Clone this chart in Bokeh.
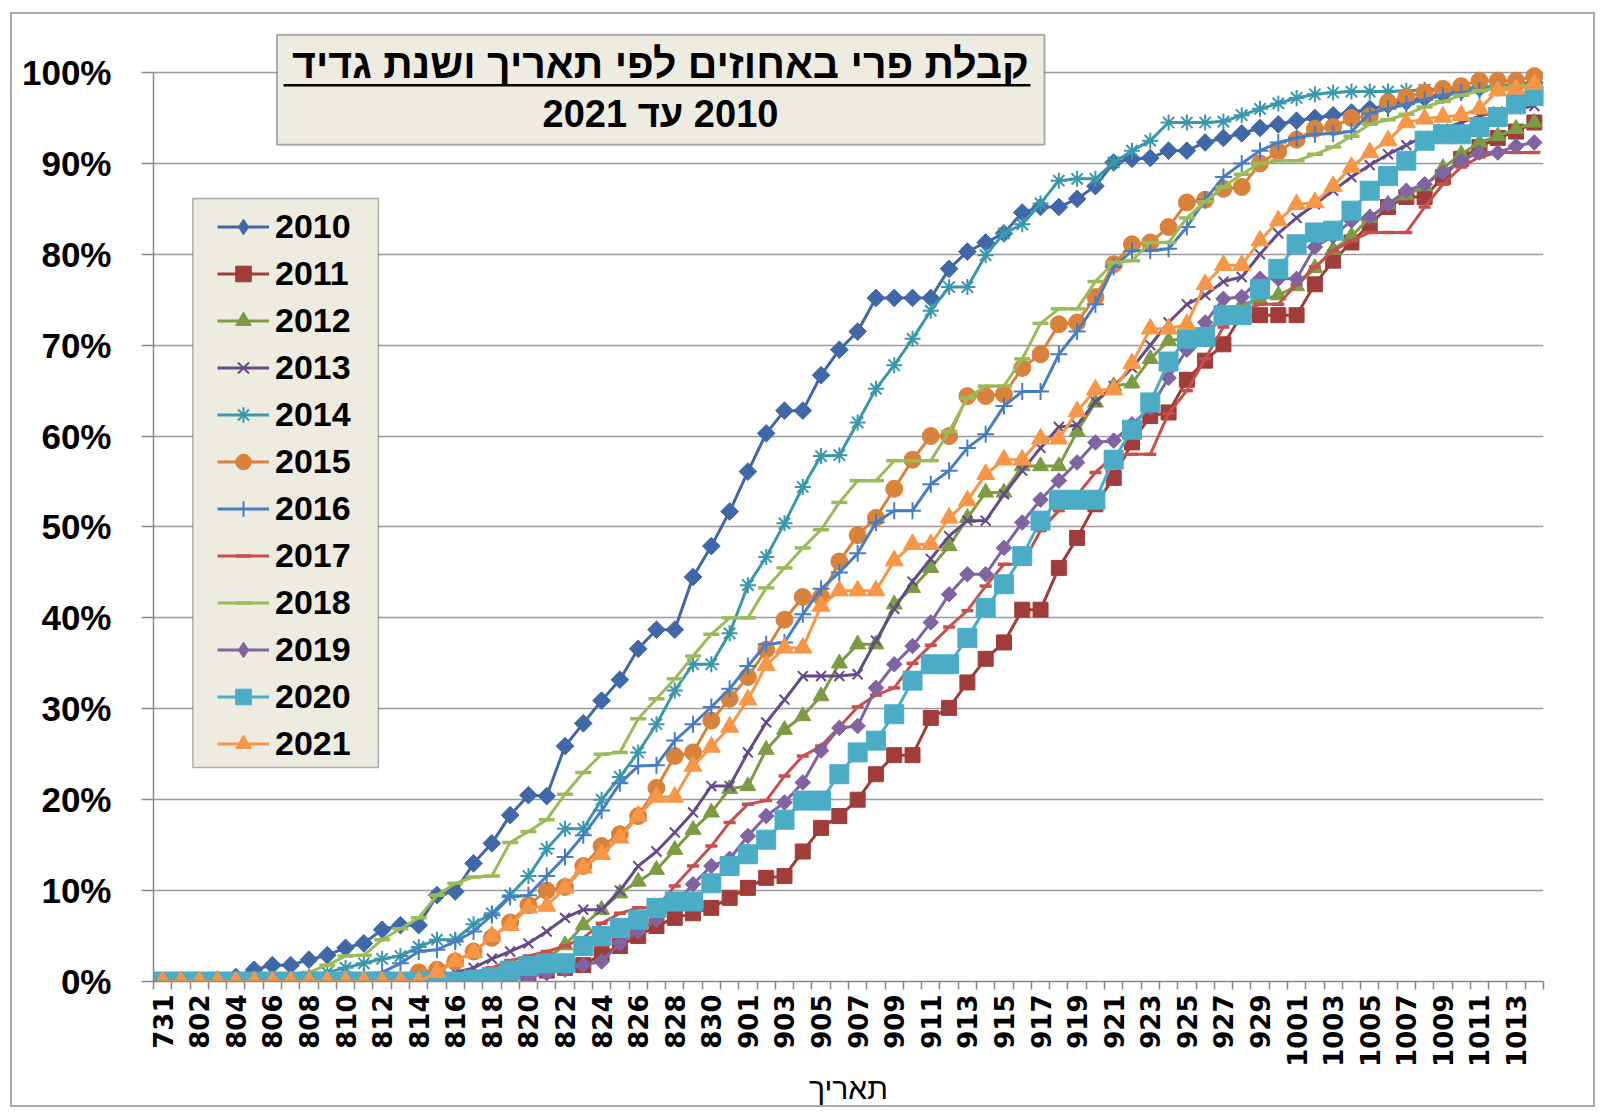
import math
from bokeh.plotting import figure
from bokeh.models import (Range1d, FixedTicker, PrintfTickFormatter, Legend, LegendItem,
                          BoxAnnotation, Label, ColumnDataSource)
from bokeh.embed import file_html
from bokeh.resources import INLINE

# ---------------- data ----------------
dates = (["731"] + [f"8{d:02d}" for d in range(1, 32)]
         + [f"9{d:02d}" for d in range(1, 31)] + [f"10{d:02d}" for d in range(1, 15)])

years = ["2010", "2011", "2012", "2013", "2014", "2015",
         "2016", "2017", "2018", "2019", "2020", "2021"]

s2010 = [0, 0, 0, 0.2, 0.5, 1.3, 1.8, 1.8, 2.4, 2.9,
         3.7, 4.2, 5.7, 6.2, 6.2, 9.5, 9.9, 13.0, 15.2, 18.3,
         20.5, 20.4, 25.9, 28.4, 30.9, 33.2, 36.6, 38.7, 38.7, 44.5,
         47.9, 51.7, 56.1, 60.3, 62.8, 62.8, 66.7, 69.5, 71.5, 75.2,
         75.2, 75.2, 75.2, 78.4, 80.3, 81.3, 82.3, 84.6, 85.2, 85.2,
         86.1, 87.5, 90.1, 90.5, 90.6, 91.4, 91.4, 92.3, 92.8, 93.3,
         93.9, 94.3, 94.7, 95.0, 95.3, 95.6, 96.0, 96.4, 96.8, 97.2,
         97.6, 98.0, 98.3, 98.5, 98.7, 98.9]
s2011 = [0, 0, 0, 0, 0, 0, 0, 0, 0, 0,
         0, 0, 0, 0, 0, 0, 0, 0.2, 0.4, 0.5,
         0.6, 1.2, 1.5, 1.8, 3.0, 3.9, 5.0, 6.1, 7.0, 7.5,
         8.1, 9.2, 10.3, 11.4, 11.6, 14.3, 16.9, 18.2, 20.0, 22.8,
         24.9, 24.9, 29.0, 30.1, 32.9, 35.5, 37.3, 40.9, 40.9, 45.5,
         48.8, 52.5, 55.4, 59.3, 62.2, 62.6, 66.2, 68.3, 70.1, 73.3,
         73.3, 73.3, 73.3, 76.7, 79.3, 81.3, 83.3, 85.2, 86.3, 86.3,
         88.5, 90.5, 91.8, 92.8, 93.5, 94.5]
s2012 = [0, 0, 0, 0, 0, 0, 0, 0, 0, 0,
         0, 0, 0, 0, 0, 0, 0, 0.3, 0.6, 1.0,
         1.6, 2.5, 4.0, 6.2, 7.9, 9.7, 11.0, 12.3, 14.5, 16.7,
         18.6, 21.2, 21.5, 25.5, 27.7, 29.2, 31.4, 35.0, 37.1, 37.1,
         41.5, 43.3, 45.5, 47.9, 51.0, 53.8, 53.8, 56.7, 56.7, 56.7,
         60.5, 63.7, 65.5, 65.8, 68.5, 70.5, 70.8, 71.5, 73.0, 74.5,
         75.0, 75.5, 76.5, 78.5, 80.5, 82.0, 84.0, 85.5, 86.5, 87.5,
         89.5, 91.0, 92.3, 93.0, 93.8, 94.5]
s2013 = [0, 0, 0, 0, 0, 0, 0, 0, 0, 0,
         0, 0, 0, 0, 0, 0.5, 1.0, 1.5, 2.5, 3.3,
         4.2, 5.5, 7.0, 7.9, 7.9, 10.0, 12.7, 14.3, 16.4, 18.6,
         21.5, 21.5, 25.2, 28.5, 31.0, 33.6, 33.6, 33.6, 33.8, 37.5,
         41.0, 44.0, 46.5, 49.0, 50.7, 50.7, 53.6, 56.2, 58.7, 61.0,
         61.2, 63.8, 65.5, 67.5, 70.0, 72.5, 74.5, 75.5, 77.0, 77.5,
         80.0, 82.3, 84.0, 85.5, 87.0, 88.5, 89.8, 91.0, 92.0, 93.0,
         93.8, 94.5, 95.2, 95.7, 96.0, 96.3]
s2014 = [0, 0, 0, 0, 0, 0, 0, 0, 0.5, 1.0,
         1.5, 2.0, 2.5, 2.8, 3.8, 4.6, 4.6, 6.3, 7.5, 9.5,
         11.6, 14.6, 16.8, 16.8, 20.0, 22.5, 25.2, 28.3, 32.0, 34.9,
         34.9, 38.3, 43.6, 46.7, 50.4, 54.4, 57.8, 57.9, 61.5, 65.2,
         67.8, 70.7, 73.8, 76.4, 76.4, 79.9, 82.3, 83.3, 85.6, 88.1,
         88.3, 88.3, 90.1, 91.4, 92.5, 94.5, 94.5, 94.5, 94.6, 95.3,
         96.0, 96.6, 97.2, 97.6, 97.8, 97.9, 97.9, 97.9, 98.0, 98.1,
         98.2, 98.3, 98.4, 98.5, 98.6, 98.7]
s2015 = [0, 0, 0, 0, 0, 0, 0, 0, 0, 0,
         0, 0, 0, 0, 1.0, 1.3, 2.2, 3.3, 4.8, 6.5,
         8.4, 10.0, 10.4, 12.7, 14.9, 16.2, 18.2, 21.3, 24.8, 25.2,
         28.7, 31.1, 33.5, 36.5, 39.8, 42.3, 42.3, 46.2, 49.1, 51.0,
         54.2, 57.4, 60.0, 60.0, 64.4, 64.4, 64.6, 67.5, 69.0, 72.3,
         72.5, 75.3, 78.9, 81.1, 81.3, 83.0, 85.7, 86.0, 87.2, 87.4,
         90.0, 91.3, 92.6, 93.8, 94.0, 95.0, 95.2, 96.7, 97.3, 97.8,
         98.2, 98.5, 99.1, 99.1, 99.1, 99.6]
s2016 = [0, 0, 0, 0, 0, 0, 0, 0, 0, 0,
         0, 0.5, 1.0, 2.0, 3.3, 3.5, 4.4, 5.5, 7.3, 9.3,
         9.5, 11.6, 13.7, 16.1, 18.8, 21.8, 23.7, 23.8, 26.5, 28.3,
         30.2, 32.2, 34.7, 37.1, 37.3, 40.4, 43.2, 45.0, 47.1, 50.5,
         51.8, 51.8, 54.7, 56.2, 58.7, 60.2, 63.3, 64.9, 64.9, 69.0,
         71.5, 74.5, 78.6, 80.4, 80.4, 80.6, 83.0, 86.0, 88.5, 90.0,
         91.4, 92.3, 92.8, 93.2, 93.3, 93.5, 95.5, 96.0, 96.5, 97.0,
         97.5, 97.8, 98.0, 98.3, 98.5, 98.7]
s2017 = [0, 0, 0, 0, 0, 0, 0, 0, 0, 0,
         0, 0, 0, 0, 0, 0.3, 0.6, 1.0, 1.5, 2.3,
         2.8, 3.3, 3.9, 4.8, 6.4, 7.5, 8.1, 8.1, 10.5, 12.7,
         14.9, 17.5, 19.5, 19.9, 22.6, 24.8, 25.9, 28.0, 30.2, 31.5,
         32.3, 35.0, 37.0, 39.0, 40.8, 43.5, 45.9, 45.9, 49.6, 51.8,
         53.5, 56.0, 57.8, 58.0, 58.0, 62.5, 65.0, 68.5, 72.0, 73.8,
         74.5, 74.5, 76.7, 78.6, 80.4, 81.5, 82.4, 82.4, 82.4, 85.2,
         87.7, 89.6, 90.7, 91.2, 91.2, 91.2]
s2018 = [0, 0, 0, 0, 0, 0, 0.2, 0.5, 1.0, 1.8,
         2.8, 2.9, 4.6, 5.8, 7.0, 9.5, 10.8, 11.5, 11.6, 15.3,
         16.5, 17.8, 20.6, 23.0, 25.0, 25.2, 28.9, 31.1, 33.3, 35.8,
         38.2, 40.0, 40.0, 43.3, 45.5, 47.7, 49.7, 52.7, 55.1, 55.1,
         57.3, 57.3, 57.3, 60.5, 64.2, 65.5, 65.5, 68.5, 72.4, 74.0,
         74.0, 77.0, 79.1, 79.3, 81.3, 81.3, 84.0, 85.8, 87.4, 88.8,
         90.0, 90.3, 90.3, 91.0, 91.8, 93.0, 94.3, 94.8, 95.4, 96.2,
         96.8, 97.5, 98.0, 98.3, 98.5, 98.7]
s2019 = [0, 0, 0, 0, 0, 0, 0, 0, 0, 0,
         0, 0, 0, 0, 0, 0, 0, 0, 0.2, 0.4,
         0.5, 0.9, 1.3, 1.8, 2.2, 4.2, 5.5, 6.8, 8.5, 10.7,
         12.7, 13.5, 16.0, 18.2, 19.7, 21.9, 25.4, 27.9, 28.1, 32.3,
         34.9, 36.9, 39.5, 42.6, 44.8, 44.8, 47.7, 50.5, 53.0, 55.1,
         57.1, 59.3, 59.5, 61.3, 63.1, 66.4, 69.5, 72.5, 75.1, 75.3,
         77.3, 77.3, 77.3, 80.8, 82.0, 83.7, 84.1, 85.5, 87.0, 87.7,
         89.0, 90.3, 91.2, 91.2, 91.9, 92.3]
s2020 = [0, 0, 0, 0, 0, 0, 0, 0, 0, 0,
         0, 0, 0, 0, 0, 0, 0, 0.2, 0.5, 1.2,
         1.7, 2.0, 2.0, 3.9, 5.0, 5.9, 6.8, 8.1, 8.8, 8.8,
         10.8, 12.7, 14.0, 15.6, 17.8, 19.9, 19.9, 22.8, 25.2, 26.5,
         29.4, 33.1, 34.9, 34.9, 37.8, 41.1, 43.7, 46.8, 50.7, 53.0,
         53.0, 53.0, 57.4, 60.7, 63.7, 68.2, 70.7, 70.9, 73.3, 73.3,
         76.2, 78.4, 81.1, 82.4, 82.6, 84.8, 87.0, 88.6, 90.3, 92.5,
         93.2, 93.2, 94.0, 95.1, 96.5, 97.4]
s2021 = [0, 0, 0, 0, 0, 0, 0, 0, 0, 0,
         0, 0, 0, 0, 0, 1.0, 2.2, 3.2, 5.0, 6.2,
         8.1, 8.3, 10.3, 12.5, 14.0, 15.8, 18.2, 20.3, 20.3, 23.7,
         25.8, 28.0, 31.0, 34.8, 36.7, 36.7, 41.3, 43.0, 43.0, 43.0,
         46.3, 48.1, 48.1, 51.0, 52.9, 55.8, 57.4, 57.4, 59.7, 59.7,
         62.7, 65.1, 65.1, 68.0, 71.8, 71.8, 72.3, 76.7, 78.8, 78.8,
         81.5, 83.7, 85.5, 85.7, 87.5, 89.6, 91.2, 92.5, 94.5, 94.9,
         95.1, 95.3, 96.0, 98.0, 98.2, 98.7]

y_ticks = [0, 10, 20, 30, 40, 50, 60, 70, 80, 90, 100]

title_line1 = "קבלת פרי באחוזים לפי תאריך ושנת גדיד"
title_line2 = "\u200f2010 עד 2021"
x_title = "תאריך"

series = [s2010, s2011, s2012, s2013, s2014, s2015,
          s2016, s2017, s2018, s2019, s2020, s2021]

# ---------------- styles ----------------
# (colour, plot marker, size, angle, legend marker)
styles = {
    "2010": ("#4068A8", "square", 12.5, math.pi / 4, "diamond"),
    "2011": ("#A03C3A", "square", 15, 0, "square"),
    "2012": ("#7D9B42", "triangle", 16, 0, "triangle"),
    "2013": ("#654A8A", "x", 14, 0, "x"),
    "2014": ("#3A98AB", "asterisk", 16, 0, "asterisk"),
    "2015": ("#D8823C", "circle", 17, 0, "circle"),
    "2016": ("#477DC2", "cross", 17, 0, "cross"),
    "2017": ("#C8504C", "dash", 12, 0, "dash"),
    "2018": ("#9BBB59", "dash", 16, 0, "dash"),
    "2019": ("#8064A2", "square", 11, math.pi / 4, "diamond"),
    "2020": ("#4BACC6", "square", 19, 0, "square"),
    "2021": ("#F79646", "triangle", 18, 0, "triangle"),
}

n = len(dates)
idx = list(range(n))

p = figure(width=1585, height=1095, output_backend="svg", toolbar_location=None,
           x_range=Range1d(-0.5, n - 0.5), y_range=Range1d(0, 104.62),
           min_border_left=141, min_border_right=54, min_border_top=16,
           min_border_bottom=128)
p.styles = {"margin-left": "10px", "margin-top": "12px", "border": "2px solid #A9A9A9"}
p.outline_line_color = None
p.background_fill_color = "white"
p.border_fill_color = "white"

# grid
p.xgrid.visible = False
p.ygrid.grid_line_color = "#9A9A9A"
p.ygrid.grid_line_width = 1.5

# x axis
xa = p.xaxis[0]
xa.ticker = FixedTicker(ticks=[i for i in idx if i % 2 == 0],
                        minor_ticks=[i - 0.5 for i in range(n + 1)])
xa.major_label_overrides = {i: dates[i] for i in idx if i % 2 == 0}
xa.major_label_orientation = math.pi / 2
xa.major_tick_out = 0
xa.major_tick_in = 0
xa.minor_tick_out = 8
xa.minor_tick_in = 0
xa.minor_tick_line_color = "#888888"
xa.minor_tick_line_width = 1.5
xa.axis_line_color = "#888888"
xa.axis_line_width = 1.5
xa.major_label_text_font = "DejaVu Sans"
xa.major_label_text_font_style = "bold"
xa.major_label_text_font_size = "26px"
xa.major_label_text_color = "black"
xa.major_label_standoff = 5
xa.axis_label = x_title
xa.axis_label_text_font = "Liberation Sans"
xa.axis_label_text_font_style = "normal"
xa.axis_label_text_font_size = "30px"
xa.axis_label_text_color = "black"
xa.axis_label_standoff = 2

# y axis
ya = p.yaxis[0]
ya.ticker = FixedTicker(ticks=y_ticks)
ya.bounds = (0, 100)
ya.formatter = PrintfTickFormatter(format="%d%%")
ya.major_tick_out = 12
ya.major_tick_in = 0
ya.minor_tick_out = 0
ya.minor_tick_in = 0
ya.major_tick_line_color = "#888888"
ya.major_tick_line_width = 1.5
ya.axis_line_color = "#888888"
ya.axis_line_width = 1.5
ya.major_label_text_font = "Liberation Sans"
ya.major_label_text_font_style = "bold"
ya.major_label_text_font_size = "35px"
ya.major_label_text_color = "black"
ya.major_label_standoff = 30

# series
items = []
for year, vals in zip(years, series):
    color, marker, size, angle, leg_marker = styles[year]
    src = ColumnDataSource(dict(x=idx, y=vals))
    lr = p.line("x", "y", source=src, line_color=color, line_width=3)
    if marker in ("x", "asterisk", "cross", "dash"):
        sr = p.scatter("x", "y", source=src, marker=marker, size=size,
                       line_color=color, line_width=2 if marker != "dash" else 3.5)
    else:
        sr = p.scatter("x", "y", source=src, marker=marker, size=size, angle=angle,
                       fill_color=color, line_color=color, line_width=1)
    if leg_marker != marker:
        # zero-size proxy on the same data so that the legend shows a diamond
        sr = p.scatter("x", "y", source=src, marker=leg_marker, size=0,
                       fill_color=color, line_color=color, line_width=1)
    items.append(LegendItem(label=year, renderers=[lr, sr]))

# legend box + legend
p.add_layout(BoxAnnotation(left=1.65, right=11.80, bottom=23.54, top=86.14,
                           fill_color="#EEECE1", fill_alpha=1,
                           line_color="black", line_width=1.5))
legend = Legend(items=items, location=(60, 214), padding=4, margin=0, spacing=8,
                glyph_width=52, glyph_height=39, label_height=39, label_standoff=6,
                label_text_font="Liberation Sans", label_text_font_style="bold",
                label_text_font_size="34px", label_text_color="black",
                background_fill_alpha=0, border_line_alpha=0)
p.add_layout(legend, "center")

# title box
p.add_layout(BoxAnnotation(left=6.25, right=48.22, bottom=92.04, top=104.14,
                           fill_color="#EEECE1", fill_alpha=1,
                           line_color="black", line_width=2))
p.add_layout(Label(x=27.22, y=100.9, text=title_line1, text_align="center",
                   text_baseline="middle", text_font="Liberation Sans",
                   text_font_style="bold", text_font_size="41px", text_color="black"))
p.add_layout(BoxAnnotation(left=6.61, right=47.45, bottom=98.46, top=98.73,
                           fill_color="black", fill_alpha=1, line_alpha=0))
p.add_layout(Label(x=27.22, y=95.38, text=title_line2, text_align="center",
                   text_baseline="middle", text_font="Liberation Sans",
                   text_font_style="bold", text_font_size="38px", text_color="black"))

open("out.html", "w").write(file_html(p, INLINE))
